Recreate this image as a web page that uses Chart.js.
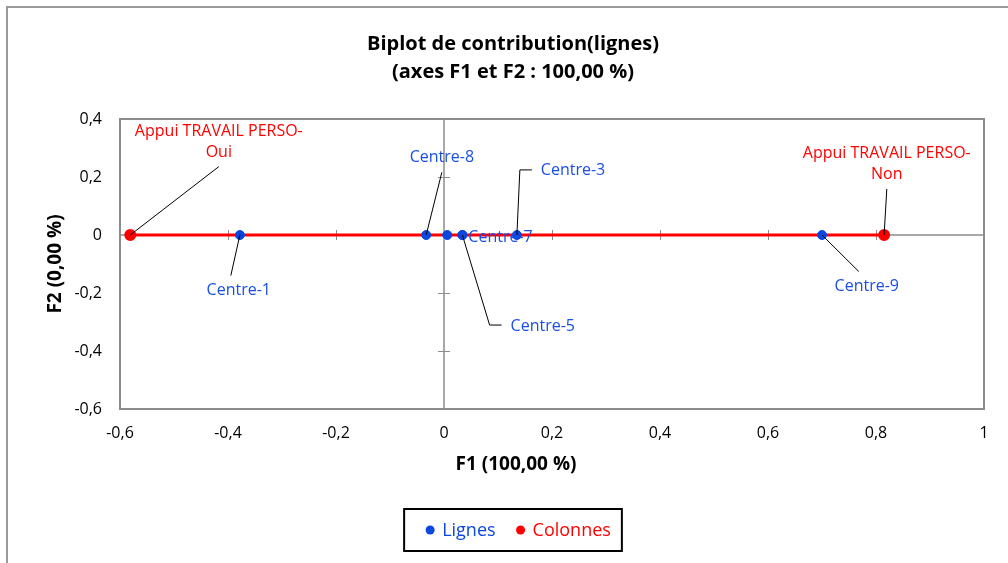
<!DOCTYPE html>
<html>
<head>
<meta charset="utf-8">
<script src="https://cdn.jsdelivr.net/npm/chart.js@4.4.0/dist/chart.umd.min.js"></script>
<style>
  html, body { margin: 0; padding: 0; background: #fff; }
  #wrap { width: 1008px; height: 563px; }
</style>
</head>
<body>
<div id="wrap"><canvas id="biplot" width="1008" height="563"></canvas></div>
<script>
// Row points (Lignes)
const rowNames = ['Centre-1', 'Centre-8', 'Centre-2', 'Centre-5', 'Centre-7', 'Centre-3', 'Centre-9'];
const rowF1 = [-0.378, -0.033, 0.006, 0.034, 0.034, 0.135, 0.700];
const rowF2 = [0, 0, 0, 0, 0, 0, 0];

// Column points (Colonnes)
const colNames = ['Appui TRAVAIL PERSO-Oui', 'Appui TRAVAIL PERSO-Non'];
const colF1 = [-0.581, 0.815];
const colF2 = [0, 0];

// Axis ticks
const xTicks = [-0.6, -0.4, -0.2, 0, 0.2, 0.4, 0.6, 0.8, 1];
const yTicks = [-0.6, -0.4, -0.2, 0, 0.2, 0.4];

const BLUE = '#0a46e0';
const BLUE_TEXT = '#1a4fe6';
const RED = '#ff0000';
const GREY = '#8c8c8c';
const FONT = "'Open Sans', 'Noto Sans', sans-serif";

// label placement (centre of the label, in axis units) and leader line style
const labelPlacement = {
    'Centre-1': { at: [-0.380, -0.190], leader: 'line' },
    'Centre-8': { at: [-0.004, 0.266], leader: 'line' },
    'Centre-5': { at: [0.183, -0.314], leader: 'elbow' },
    'Centre-7': { side: 'right' },
    'Centre-3': { at: [0.239, 0.221], leader: 'elbow' },
    'Centre-9': { at: [0.783, -0.176], leader: 'line' },
    'Appui TRAVAIL PERSO-Oui': { at: [-0.417, 0.322], leader: 'line' },
    'Appui TRAVAIL PERSO-Non': { at: [0.820, 0.245], leader: 'line' }
};

function fmt(v) {
    return Number(v.toFixed(1)).toString().replace('.', ',');
}

function toPoints(xs, ys, names) {
    return xs.map((x, i) => ({ x: x, y: ys[i], name: names[i] }));
}

const framePlugin = {
    id: 'frame',
    beforeDatasetsDraw(chart) {
        const { ctx, chartArea: a, scales: { x, y } } = chart;
        const x0 = x.getPixelForValue(0);
        const y0 = y.getPixelForValue(0);
        ctx.save();
        ctx.strokeStyle = GREY;
        // axes through the origin
        ctx.lineWidth = 1.5;
        ctx.beginPath();
        ctx.moveTo(a.left, y0); ctx.lineTo(a.right, y0);
        ctx.moveTo(x0, a.top); ctx.lineTo(x0, a.bottom);
        ctx.stroke();
        // tick marks on the axes
        ctx.lineWidth = 1;
        ctx.beginPath();
        xTicks.forEach(t => {
            if (t === 0 || t === xTicks[0] || t === xTicks[xTicks.length - 1]) return;
            const px = Math.round(x.getPixelForValue(t)) + 0.5;
            ctx.moveTo(px, y0 - 5); ctx.lineTo(px, y0 + 5);
        });
        yTicks.forEach(t => {
            if (t === 0 || t === yTicks[0] || t === yTicks[yTicks.length - 1]) return;
            const py = Math.round(y.getPixelForValue(t)) + 0.5;
            ctx.moveTo(x0 - 6, py); ctx.lineTo(x0 + 6, py);
        });
        ctx.stroke();
        // plot area border
        ctx.lineWidth = 2;
        ctx.strokeRect(a.left, a.top, a.right - a.left, a.bottom - a.top);
        ctx.restore();
    },
    afterDraw(chart) {
        const { ctx } = chart;
        ctx.save();
        // outer chart border (left and top visible)
        ctx.strokeStyle = '#9a9a9a';
        ctx.lineWidth = 2;
        ctx.beginPath();
        ctx.moveTo(7, chart.height); ctx.lineTo(7, 7); ctx.lineTo(chart.width, 7);
        ctx.stroke();

        // horizontal axis title
        ctx.fillStyle = '#000';
        ctx.font = 'bold 19px ' + FONT;
        ctx.textAlign = 'center';
        ctx.textBaseline = 'middle';
        ctx.fillText('F1 (100,00 %)', 516, 465);

        // legend in a framed box
        ctx.font = '18px ' + FONT;
        ctx.textAlign = 'left';
        const items = chart.data.datasets.map(ds => ({
            text: ds.label, color: ds.legendColor, w: ctx.measureText(ds.label).width
        }));
        const dotGap = 12, itemGap = 25;
        let content = 0;
        items.forEach((it, i) => { content += dotGap + it.w + (i < items.length - 1 ? itemGap : 0); });
        const padL = 26, padR = 11;
        const boxW = padL + content + padR;
        const boxL = 513 - boxW / 2;
        const cy = 530;
        ctx.strokeStyle = '#000';
        ctx.lineWidth = 2;
        ctx.strokeRect(boxL, cy - 21, boxW, 42);
        let cx = boxL + padL;
        items.forEach(it => {
            ctx.fillStyle = it.color;
            ctx.beginPath();
            ctx.arc(cx, cy, 4.5, 0, Math.PI * 2);
            ctx.fill();
            ctx.fillText(it.text, cx + dotGap, cy + 1);
            cx += dotGap + it.w + itemGap;
        });
        ctx.restore();
    }
};

const labelPlugin = {
    id: 'pointLabels',
    afterDatasetsDraw(chart) {
        const { ctx, scales: { x, y } } = chart;
        ctx.save();
        ctx.font = '16px ' + FONT;
        ctx.textBaseline = 'middle';
        const lh = 21;
        chart.data.datasets.forEach(ds => {
            ds.data.forEach(p => {
                const place = labelPlacement[p.name];
                if (!place) return;
                const px = x.getPixelForValue(p.x);
                const py = y.getPixelForValue(p.y);
                let lines = [p.name];
                if (ctx.measureText(p.name).width > 120) {
                    const k = p.name.lastIndexOf('-') + 1;
                    lines = [p.name.slice(0, k), p.name.slice(k)];
                }
                ctx.fillStyle = ds.labelColor;
                if (place.side === 'right') {
                    ctx.textAlign = 'left';
                    ctx.fillText(lines[0], px + 6, py + 2);
                    return;
                }
                const cx = x.getPixelForValue(place.at[0]);
                const cy = y.getPixelForValue(place.at[1]);
                const h = lines.length * lh;
                const w = Math.max(...lines.map(l => ctx.measureText(l).width));
                const top = cy - h / 2, left = cx - w / 2;
                ctx.textAlign = 'center';
                lines.forEach((l, i) => ctx.fillText(l, cx, top + lh * i + lh / 2));

                ctx.strokeStyle = '#000';
                ctx.lineWidth = 1;
                ctx.beginPath();
                ctx.moveTo(px, py);
                if (place.leader === 'elbow') {
                    ctx.lineTo(left - 21, cy - 1);
                    ctx.lineTo(left - 9, cy - 1);
                } else if (cy > py) {
                    ctx.lineTo(cx - 8, top - 4);
                } else {
                    ctx.lineTo(cx, top + h + 4);
                }
                ctx.stroke();
            });
        });
        ctx.restore();
    }
};

new Chart(document.getElementById('biplot'), {
    type: 'scatter',
    data: {
        datasets: [
            {
                label: 'Lignes',
                data: toPoints(rowF1, rowF2, rowNames),
                backgroundColor: BLUE,
                borderColor: BLUE,
                pointRadius: 4.5,
                pointHoverRadius: 4.5,
                legendColor: BLUE,
                labelColor: BLUE_TEXT
            },
            {
                label: 'Colonnes',
                data: toPoints(colF1, colF2, colNames),
                backgroundColor: RED,
                borderColor: RED,
                showLine: true,
                borderWidth: 3,
                pointRadius: 4.5,
                pointHoverRadius: 4.5,
                legendColor: RED,
                labelColor: RED
            }
        ]
    },
    options: {
        responsive: false,
        animation: false,
        devicePixelRatio: 1,
        layout: { padding: { left: 42, right: 24, top: 0, bottom: 74 } },
        plugins: {
            legend: { display: false },
            tooltip: { enabled: false },
            title: {
                display: true,
                text: ['Biplot de contribution(lignes)', '(axes F1 et F2 : 100,00 %)'],
                color: '#000',
                font: { family: FONT, size: 20, weight: 'bold', lineHeight: '28px' },
                padding: { top: 30, bottom: 33 }
            }
        },
        scales: {
            x: {
                type: 'linear',
                min: -0.6,
                max: 1,
                afterBuildTicks: s => { s.ticks = xTicks.map(v => ({ value: v })); },
                afterFit: s => { s.height = 80; },
                grid: { display: false },
                border: { display: false },
                ticks: { color: '#000', padding: 7, font: { family: FONT, size: 16 }, callback: v => fmt(v), maxRotation: 0 },
                title: { display: false }
            },
            y: {
                type: 'linear',
                min: -0.6,
                max: 0.4,
                afterBuildTicks: s => { s.ticks = yTicks.map(v => ({ value: v })); },
                afterFit: s => { s.width = 78; },
                grid: { display: false },
                border: { display: false },
                ticks: { color: '#000', padding: 10, font: { family: FONT, size: 16 }, callback: v => fmt(v) },
                title: {
                    display: true,
                    text: 'F2 (0,00 %)',
                    color: '#000',
                    font: { family: FONT, size: 19, weight: 'bold', lineHeight: 1.2 },
                    padding: { top: 2 }
                }
            }
        }
    },
    plugins: [framePlugin, labelPlugin]
});
</script>
</body>
</html>
